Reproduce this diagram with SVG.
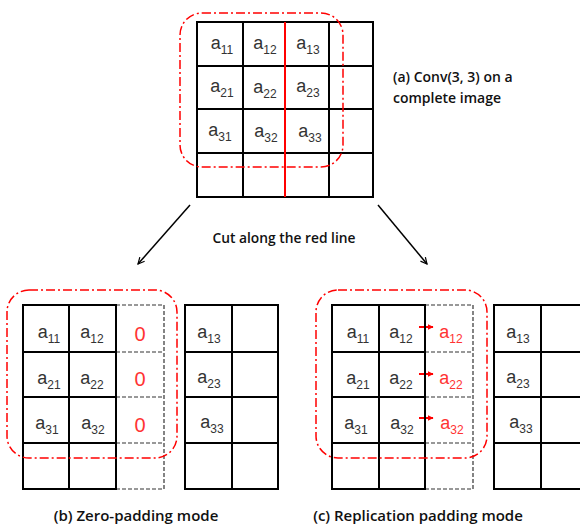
<svg xmlns="http://www.w3.org/2000/svg" width="580" height="528" viewBox="0 0 580 528">
<style>
.g{fill:none;stroke:#000;stroke-width:2}
.dd{fill:none;stroke:#333;stroke-width:1.2;stroke-dasharray:4,2}
.rd{fill:none;stroke:#f00;stroke-width:1.5;stroke-dasharray:9,3,2,3}
.t{font-family:"Liberation Sans",Arial,sans-serif;font-size:18px;fill:#333;text-anchor:middle}
.t tspan{font-size:12px}
.r{fill:#f33}
.lb{font-family:"Open Sans","Liberation Sans",Arial,sans-serif;font-weight:600;font-size:14px;fill:#111}
.lb2{font-size:15px}
</style>
<defs>
<marker id="ah" viewBox="0 0 10 10" refX="9" refY="5" markerWidth="8" markerHeight="8" orient="auto" markerUnits="userSpaceOnUse">
<path d="M1,1 L9,5 L1,9" fill="none" stroke="#000" stroke-width="1.5"/>
</marker>
<marker id="rh" viewBox="0 0 10 10" refX="9" refY="5" markerWidth="6" markerHeight="6" orient="auto" markerUnits="userSpaceOnUse">
<path d="M0,0 L10,5 L0,10 z" fill="#f00"/>
</marker>
</defs>

<g id="grid-a">
<rect class="g" x="197" y="22" width="176" height="175" fill="#fff"/>
<path class="g" d="M243,22V197M329,22V197M197,66H373M197,109H373M197,153H373"/>
<path d="M285,22V197" stroke="#f00" stroke-width="2"/>
<rect class="rd" x="180" y="13" width="163" height="154" rx="22"/>
<text class="t" x="222" y="49">a<tspan dy="5">11</tspan></text>
<text class="t" x="265" y="49">a<tspan dy="5">12</tspan></text>
<text class="t" x="308" y="49">a<tspan dy="5">13</tspan></text>
<text class="t" x="222" y="92">a<tspan dy="5">21</tspan></text>
<text class="t" x="265" y="93">a<tspan dy="5">22</tspan></text>
<text class="t" x="308" y="92">a<tspan dy="5">23</tspan></text>
<text class="t" x="220" y="136">a<tspan dy="5">31</tspan></text>
<text class="t" x="266" y="137">a<tspan dy="5">32</tspan></text>
<text class="t" x="310" y="137">a<tspan dy="5">33</tspan></text>
</g>

<g id="label-a">
<text class="lb" x="393" y="82">(a) Conv(3, 3) on a</text>
<text class="lb" x="393" y="103">complete image</text>
</g>

<g id="connectors">
<line x1="190" y1="205" x2="138" y2="264" stroke="#000" stroke-width="1.5" marker-end="url(#ah)"/>
<line x1="378" y1="205" x2="427" y2="264" stroke="#000" stroke-width="1.5" marker-end="url(#ah)"/>
<line x1="419" y1="327" x2="433" y2="327" stroke="#f00" stroke-width="2" marker-end="url(#rh)"/>
<line x1="419" y1="374" x2="433" y2="374" stroke="#f00" stroke-width="2" marker-end="url(#rh)"/>
<line x1="419" y1="418" x2="433" y2="418" stroke="#f00" stroke-width="2" marker-end="url(#rh)"/>
</g>
<text class="lb" x="284" y="243" text-anchor="middle" style="font-size:13.8px">Cut along the red line</text>

<g id="grid-b-left">
<path class="dd" d="M116,305H164V489H116M116,352H164M116,397H164M116,443H164"/>
<rect class="g" x="23" y="305" width="93" height="184"/>
<path class="g" d="M69,305V489M23,352H116M23,397H116M23,443H116"/>
<text class="t" x="49" y="338">a<tspan dy="5">11</tspan></text>
<text class="t" x="92" y="338">a<tspan dy="5">12</tspan></text>
<text class="t" x="49" y="384">a<tspan dy="5">21</tspan></text>
<text class="t" x="92" y="384">a<tspan dy="5">22</tspan></text>
<text class="t" x="47" y="429">a<tspan dy="5">31</tspan></text>
<text class="t" x="93" y="429">a<tspan dy="5">32</tspan></text>
<text class="t r" x="140" y="341" style="font-size:20px">0</text>
<text class="t r" x="140" y="386" style="font-size:20px">0</text>
<text class="t r" x="140" y="432" style="font-size:20px">0</text>
<rect class="rd" x="7" y="290" width="170" height="168" rx="22"/>
</g>

<g id="grid-b-right">
<rect class="g" x="185" y="305" width="93" height="184"/>
<path class="g" d="M232,305V489M185,352H278M185,397H278M185,443H278"/>
<text class="t" x="209" y="338">a<tspan dy="5">13</tspan></text>
<text class="t" x="209" y="383">a<tspan dy="5">23</tspan></text>
<text class="t" x="212" y="428">a<tspan dy="5">33</tspan></text>
</g>

<g id="grid-c-left">
<path class="dd" d="M425,305H473V489H425M425,352H473M425,397H473M425,443H473"/>
<rect class="g" x="332" y="305" width="93" height="184"/>
<path class="g" d="M379,305V489M332,352H425M332,397H425M332,443H425"/>
<text class="t" x="358" y="338">a<tspan dy="5">11</tspan></text>
<text class="t" x="401" y="338">a<tspan dy="5">12</tspan></text>
<text class="t" x="358" y="384">a<tspan dy="5">21</tspan></text>
<text class="t" x="401" y="384">a<tspan dy="5">22</tspan></text>
<text class="t" x="356" y="429">a<tspan dy="5">31</tspan></text>
<text class="t" x="402" y="429">a<tspan dy="5">32</tspan></text>
<text class="t r" x="451" y="338">a<tspan dy="5">12</tspan></text>
<text class="t r" x="451" y="384">a<tspan dy="5">22</tspan></text>
<text class="t r" x="452" y="429">a<tspan dy="5">32</tspan></text>
<rect class="rd" x="316" y="290" width="171" height="168" rx="22"/>
</g>

<g id="grid-c-right">
<rect class="g" x="494" y="305" width="93" height="184"/>
<path class="g" d="M541,305V489M494,352H587M494,397H587M494,443H587"/>
<text class="t" x="518" y="338">a<tspan dy="5">13</tspan></text>
<text class="t" x="518" y="383">a<tspan dy="5">23</tspan></text>
<text class="t" x="521" y="428">a<tspan dy="5">33</tspan></text>
</g>

<text class="lb lb2" x="136" y="521" text-anchor="middle">(b) Zero-padding mode</text>
<text class="lb lb2" x="418" y="521" text-anchor="middle">(c) Replication padding mode</text>
</svg>
